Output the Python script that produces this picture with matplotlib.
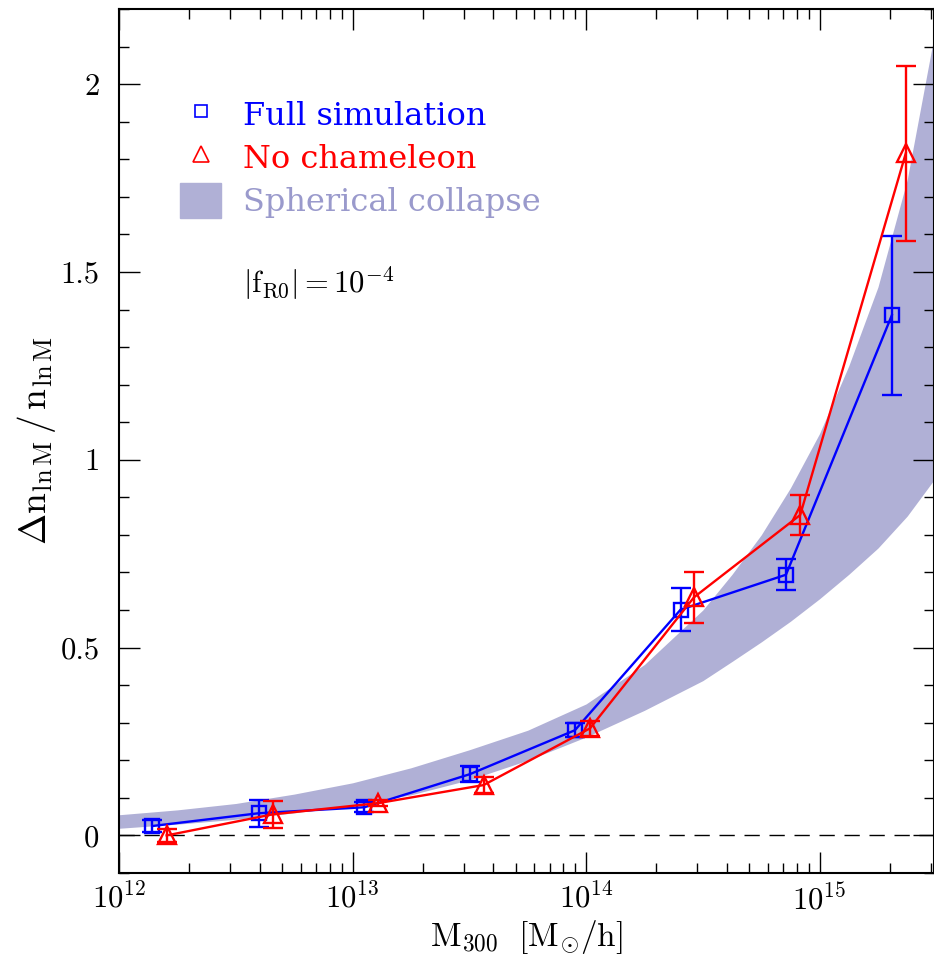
import matplotlib
matplotlib.use('Agg')
import matplotlib.pyplot as plt
import numpy as np
from matplotlib.lines import Line2D
from matplotlib.patches import Patch
from matplotlib.ticker import LogLocator, FuncFormatter, MultipleLocator, NullFormatter

plt.rcParams['font.family'] = 'cmr10'
plt.rcParams['mathtext.fontset'] = 'cm'
plt.rcParams['axes.formatter.use_mathtext'] = True
plt.rcParams['axes.unicode_minus'] = False

# simulacion completa (cuadrados azules)
masa_full = [1.39e12, 3.96e12, 1.125e13, 3.18e13, 8.96e13, 2.54e14, 7.18e14, 2.04e15]
dn_full = [0.025, 0.059, 0.075, 0.163, 0.280, 0.601, 0.694, 1.385]
err_full = [0.016, 0.036, 0.014, 0.021, 0.018, 0.058, 0.042, 0.212]

# sin camaleon (triangulos rojos)
masa_nocham = [1.60e12, 4.55e12, 1.29e13, 3.64e13, 1.04e14, 2.90e14, 8.26e14, 2.34e15]
dn_nocham = [0.000, 0.056, 0.086, 0.134, 0.285, 0.634, 0.853, 1.816]
err_nocham = [0.017, 0.036, 0.008, 0.022, 0.020, 0.068, 0.053, 0.233]

# banda del colapso esferico
logm_banda = [12.0, 12.25, 12.5, 12.75, 13.0, 13.25, 13.5, 13.75, 14.0, 14.25,
              14.5, 14.625, 14.75, 14.875, 15.0, 15.125, 15.25, 15.375, 15.5]
banda_sup = [0.055, 0.068, 0.085, 0.110, 0.140, 0.180, 0.228, 0.280, 0.350, 0.455,
             0.600, 0.695, 0.800, 0.925, 1.070, 1.250, 1.460, 1.745, 2.160]
banda_inf = [0.019, 0.030, 0.043, 0.060, 0.080, 0.108, 0.148, 0.200, 0.262, 0.333,
             0.412, 0.463, 0.515, 0.570, 0.630, 0.695, 0.765, 0.850, 0.955]

color_banda = '#b0b0d6'

fig = plt.figure(figsize=(9.34, 9.69), dpi=100)
ax = fig.add_axes([0.1274, 0.0991, 0.8726, 0.8916])

m_banda = 10**np.array(logm_banda)
ax.fill_between(m_banda, banda_inf, banda_sup, color=color_banda, lw=0, zorder=1)

ax.axhline(0, color='k', lw=1, ls=(0, (11, 7)), zorder=2)

ax.errorbar(masa_full, dn_full, yerr=err_full, color='b', marker='s', ms=10,
            mfc='none', mec='b', mew=1.7, lw=1.7, elinewidth=1.7,
            capsize=7, capthick=1.7, zorder=3)
ax.errorbar(masa_nocham, dn_nocham, yerr=err_nocham, color='r', marker='^', ms=13,
            mfc='none', mec='r', mew=1.7, lw=1.7, elinewidth=1.7,
            capsize=7, capthick=1.7, zorder=4)

ax.set_xscale('log')
ax.set_xlim(1e12, 10**15.49)
ax.set_ylim(-0.1, 2.2)

ax.xaxis.set_major_locator(LogLocator(base=10, numticks=10))
ax.xaxis.set_minor_locator(LogLocator(base=10, subs=np.arange(2, 10), numticks=20))
ax.xaxis.set_minor_formatter(NullFormatter())
ax.yaxis.set_major_locator(MultipleLocator(0.5))
ax.yaxis.set_minor_locator(MultipleLocator(0.1))
ax.yaxis.set_major_formatter(FuncFormatter(lambda v, p: f'{v:g}'))

ax.tick_params(which='both', direction='in', top=True, right=True, width=1)
ax.tick_params(which='major', length=15, labelsize=22)
ax.tick_params(axis='x', which='major', pad=7)
ax.tick_params(axis='y', which='major', pad=14)
ax.tick_params(which='minor', length=7.5)
for s in ax.spines.values():
    s.set_linewidth(1.5)

ax.set_xlabel(r'$\mathrm{M_{300}\ \ [M_{\odot}/h]}$', fontsize=24, labelpad=2)
ax.set_ylabel(r'$\Delta \mathrm{n_{ln\,M}} \, / \, \mathrm{n_{ln\,M}}$', fontsize=27, labelpad=2)

handles = [Line2D([], [], ls='none', marker='s', ms=9, mfc='none', mec='b', mew=1.2),
           Line2D([], [], ls='none', marker='^', ms=12, mfc='none', mec='r', mew=1.2),
           Patch(color=color_banda)]
labels = ['Full simulation', 'No chameleon', 'Spherical collapse']
leg = ax.legend(handles, labels, loc='upper left', bbox_to_anchor=(0.0748, 0.898),
                frameon=False, prop={'family': 'DejaVu Serif', 'size': 23},
                borderpad=0, borderaxespad=0,
                handlelength=1.3, handleheight=1.3, handletextpad=0.66,
                labelspacing=0.25,
                labelcolor=['b', 'r', '#9a9acc'])

ax.text(0.152, 0.683, r'$|\mathrm{f_{R0}}| = 10^{-4}$', transform=ax.transAxes,
        fontsize=22, va='center', ha='left')

fig.savefig('out.png', dpi=100)
